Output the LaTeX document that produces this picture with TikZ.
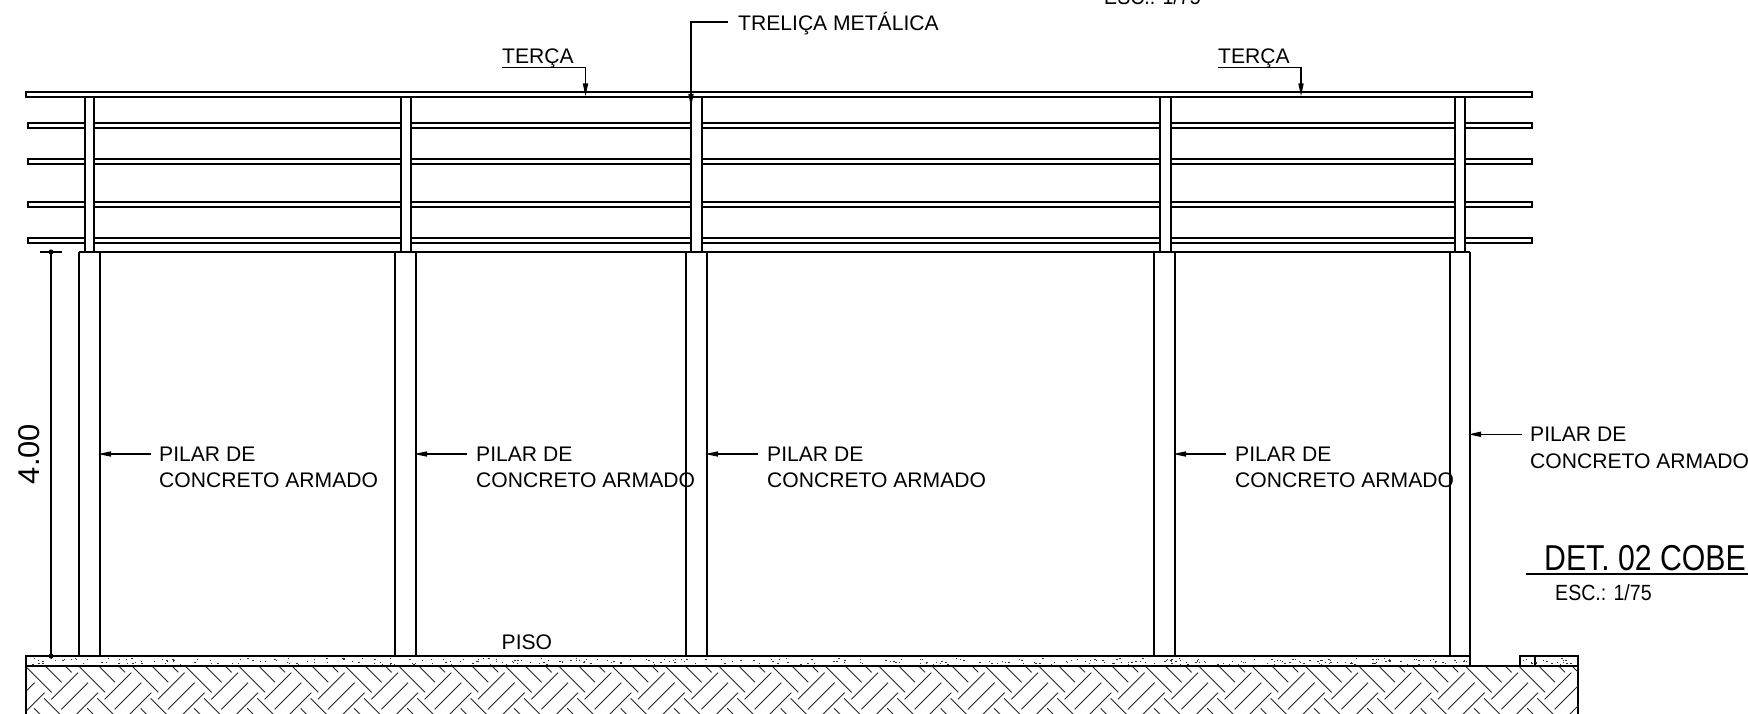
\documentclass[tikz,border=0pt]{standalone}
\usepackage{fontspec}
\setmainfont{Liberation Sans}
\usetikzlibrary{arrows.meta}
\tikzset{
  purlin/.style={draw=black,line width=2pt,fill=white},
  post/.style={draw=black,line width=2pt,fill=white},
  pillar/.style={draw=black,line width=2pt},
  floorline/.style={draw=black,line width=2pt},
  hatchline/.style={draw=black!85,line width=0.9pt},
  leader/.style={draw=black,line width=1.5pt},
  tipped/.style={leader,-{Stealth[length=13pt,width=5pt,inset=0pt]}},
  label/.style={anchor=base west,inner sep=0pt,font=\fontsize{21.1}{25}\selectfont},
}
\begin{document}
\begin{tikzpicture}[x=1pt,y=-1pt]
\useasboundingbox (0,0) rectangle (1748,714);
\clip (0,0) rectangle (1748,714);
\fill[white] (0,0) rectangle (1748,714);

% purlins
\draw[purlin] (26,92) rectangle (1532,97);
\foreach \ya/\yb in {123/128,159/164,202/207,238/243}
  \draw[purlin] (28,\ya) rectangle (1532,\yb);
% upper posts
\foreach \xa/\xb in {85/94,401/411,691/702,1160/1171,1455/1465}
  \draw[post] (\xa,97) rectangle (\xb,252);
% pillars
\draw[line width=1.4pt] (79,252) -- (1470,252);
\foreach \xa/\xb in {79/100,395/416,686/707,1154/1175,1450/1470}{
  \draw[pillar] (\xa,252) -- (\xa,656);
  \draw[pillar] (\xb,252) -- (\xb,656);
}
% floor
\draw[floorline] (26,656) -- (1470,656) -- (1470,666);
\draw[floorline] (26,666) -- (1578,666);
\draw[line width=2.2pt] (26,655) -- (26,714);
\draw[line width=1.5pt] (1578,666) -- (1578,714);
\draw[floorline] (1520,666) -- (1520,656) -- (1578,656) -- (1578,666);
\draw[floorline] (1535,656) -- (1535,666);
% concrete speckle
\pgfmathsetseed{4711}
\foreach \n in {1,...,330}{
  \pgfmathsetmacro\px{28+rnd*1440}
  \pgfmathsetmacro\py{658+rnd*6}
  \fill[black!80] (\px,\py) rectangle +(1.4,1);
}
\foreach \n in {1,...,18}{
  \pgfmathsetmacro\px{1522+rnd*54}
  \pgfmathsetmacro\py{658+rnd*6}
  \fill[black!80] (\px,\py) rectangle +(1.4,1);
}
% herringbone earth
\begin{scope}
\clip (27,667) rectangle (1578,714);
\foreach \i in {-8,...,22}{
  \begin{scope}[shift={({420+53.333*\i},620)},x=0.33333pt,y=-0.33333pt]
    \draw[hatchline] (14,238) -- (94,158);
    \draw[hatchline] (44,268) -- (124,188);
    \draw[hatchline] (74,298) -- (154,218);
    \draw[hatchline] (97,139) -- (175,217);
    \draw[hatchline] (125,107) -- (205,187);
    \draw[hatchline] (155,77) -- (235,157);
    \draw[hatchline] (152,235) -- (232,315);
    \draw[hatchline] (122,265) -- (202,345);
  \end{scope}
}
\end{scope}
% level dimension
\coordinate (dimtop) at (51,252);
\coordinate (dimbot) at (51,656);
\draw[line width=1.5pt] (dimtop) -- (dimbot);
\draw[line width=1.5pt] (40,252) -- (62,252);
\fill (dimtop) circle (2.6pt);
\fill (dimbot) circle (2.6pt);
\node[rotate=90,anchor=base,inner sep=0pt,font=\fontsize{30}{34}\selectfont,xscale=1.03] (dimval) at (39.5,454) {4.00};
% TERCA labels
\node[label] (tercaA) at (502,64) {TERÇA};
\coordinate (tercaAt) at (585.5,96.5);
\draw[tipped] (tercaA.base west) ++(0,3.7) -- (585.5,67.7) -- (tercaAt);
\node[label] (tercaB) at (1218,64) {TERÇA};
\coordinate (tercaBt) at (1301,96.5);
\draw[tipped] (tercaB.base west) ++(0,3.7) -- (1301,67.7) -- (tercaBt);
% truss label
\node[label] (trelica) at (738,31) {TRELIÇA METÁLICA};
\coordinate (trelicat) at (691,107);
\draw[tipped] (728,22) -- (691,22) -- (trelicat);
% pillar labels
\foreach \nm/\tip/\from/\tx in {a/98/150.5/159,b/414/467/476,c/705/758/767,d/1173/1226/1235}{
  \node[label] (pil\nm) at (\tx,461.5) {PILAR DE};
  \node[label] (con\nm) at (\tx,487.5) {CONCRETO ARMADO};
  \coordinate (tip\nm) at (\tip,454);
  \draw[tipped] (\from,454) -- (tip\nm);
}
\node[label] (pile) at (1530,441.5) {PILAR DE};
\node[label] (cone) at (1530,468) {CONCRETO ARMADO};
\coordinate (tipe) at (1468,434.3);
\draw[tipped] (1522,434.3) -- (tipe);
% floor label
\node[label] (piso) at (501.5,649) {PISO};
% titles
\node[anchor=base west,inner sep=0pt,font=\fontsize{36}{42}\selectfont,xscale=.84] (titulo) at (1544,570.5) {DET. 02 COBE};
\draw[line width=1.8pt] (1526,574) -- (1748,574);
\node[anchor=base west,inner sep=0pt,font=\fontsize{22}{26}\selectfont,xscale=.89] (escala) at (1555,600) {ESC.: 1/75};
\node[anchor=base west,inner sep=0pt,font=\fontsize{22}{26}\selectfont,xscale=.89] (escalaB) at (1104,5) {ESC.: 1/75};
\end{tikzpicture}
\end{document}
